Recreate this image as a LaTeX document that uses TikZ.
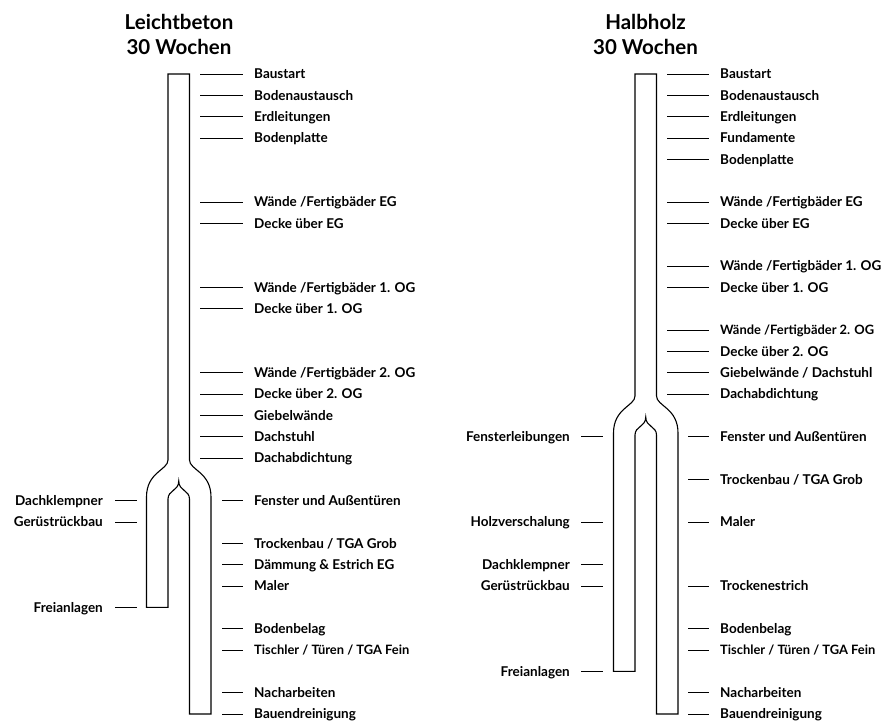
\documentclass[tikz,border=0pt]{standalone}
\usepackage{fontspec}
\setmainfont{Lato}
\newcommand\labelfont{\bfseries\fontsize{13.5}{15}\selectfont}
\newcommand\narrowfont{\bfseries\fontsize{12.9}{15}\selectfont}
\newcommand\titlefont{\bfseries\fontsize{20.5}{25}\selectfont}
\tikzset{
  outline/.style={line width=1.1pt, line join=miter, draw=black},
  tick/.style={line width=0.9pt, draw=black},
  lblR/.style={anchor=base west, inner sep=0pt, yshift=-4.9pt, font=\labelfont, text=black},
  lblL/.style={anchor=base east, inner sep=0pt, yshift=-4.9pt, font=\labelfont, text=black},
  ttl/.style={align=center, inner sep=0pt, font=\titlefont, text=black},
}
\begin{document}
\begin{tikzpicture}[x=1pt, y=-1pt]
\useasboundingbox (0,0) rectangle (882,722);

% ---------------- Leichtbeton ----------------
\node[ttl] (titleA) at (179,34.5) {Leichtbeton\\30 Wochen};
\draw[outline] (168,74) -- (189.5,74) -- (189.5,460)
  .. controls (189.5,470) and (211,472) .. (211,497) -- (211,714) -- (189.5,714) -- (189.5,499)
  .. controls (189.5,490) and (178.75,491) .. (178.75,481)
  .. controls (178.75,491) and (168,490) .. (168,499) -- (168,607.3) -- (146.5,607.3) -- (146.5,497)
  .. controls (146.5,472) and (168,470) .. (168,460) -- cycle;

\foreach \k/\xs/\t in {0/200/Baustart, 1/200/Bodenaustausch, 2/200/Erdleitungen, 3/200/Bodenplatte,
  6/200/{Wände /Fertigbäder EG}, 7/200/{Decke über EG}, 10/200/{Wände /Fertigbäder 1. OG},
  11/200/{Decke über 1. OG}, 14/200/{Wände /Fertigbäder 2. OG}, 15/200/{Decke über 2. OG},
  16/200/Giebelwände, 17/200/Dachstuhl, 18/200/Dachabdichtung,
  20/222/{Fenster und Außentüren}, 22/222/{Trockenbau / TGA Grob}, 23/222/{Dämmung \& Estrich EG},
  24/222/Maler, 26/222/Bodenbelag, 27/222/{\narrowfont Tischler / Türen / TGA Fein}, 29/222/Nacharbeiten,
  30/222/Bauendreinigung} {
  \node[lblR] (AR\k) at (254,{74+\k*21.333}) {\t};
  \coordinate (ARs\k) at (\xs,{74+\k*21.333});
  \draw[tick] (ARs\k) -- ([xshift=-11pt,yshift=4.9pt]AR\k.base west);
}
\foreach \k/\t in {20/Dachklempner, 21/Gerüstrückbau, 25/Freianlagen} {
  \node[lblL] (AL\k) at (103,{74+\k*21.333}) {\t};
  \coordinate (ALs\k) at (137,{74+\k*21.333});
  \draw[tick] ([xshift=12pt,yshift=4.9pt]AL\k.base east) -- (ALs\k);
}

% ---------------- Halbholz ----------------
\node[ttl] (titleB) at (645.5,34.5) {Halbholz\\30 Wochen};
\draw[outline] (635,74) -- (656.5,74) -- (656.5,396)
  .. controls (656.5,406) and (678,408) .. (678,433) -- (678,714) -- (656.5,714) -- (656.5,435)
  .. controls (656.5,426) and (645.75,427) .. (645.75,417)
  .. controls (645.75,427) and (635,426) .. (635,435) -- (635,671.3) -- (613.5,671.3) -- (613.5,433)
  .. controls (613.5,408) and (635,406) .. (635,396) -- cycle;

\foreach \k/\xs/\t in {0/667/Baustart, 1/667/Bodenaustausch, 2/667/Erdleitungen, 3/667/Fundamente,
  4/667/Bodenplatte, 6/667/{Wände /Fertigbäder EG}, 7/667/{Decke über EG},
  9/667/{Wände /Fertigbäder 1. OG}, 10/667/{Decke über 1. OG}, 12/667/{\narrowfont Wände /Fertigbäder 2. OG},
  13/667/{Decke über 2. OG}, 14/667/{Giebelwände / Dachstuhl}, 15/667/Dachabdichtung,
  17/688/{Fenster und Außentüren}, 19/688/{Trockenbau / TGA Grob}, 21/688/Maler,
  24/688/Trockenestrich, 26/688/Bodenbelag, 27/688/{\narrowfont Tischler / Türen / TGA Fein},
  29/688/Nacharbeiten, 30/688/Bauendreinigung} {
  \node[lblR] (BR\k) at (720,{74+\k*21.333}) {\t};
  \coordinate (BRs\k) at (\xs,{74+\k*21.333});
  \draw[tick] (BRs\k) -- ([xshift=-11pt,yshift=4.9pt]BR\k.base west);
}
\foreach \k/\t in {17/Fensterleibungen, 21/Holzverschalung, 23/Dachklempner, 24/Gerüstrückbau, 28/Freianlagen} {
  \node[lblL] (BL\k) at (570,{74+\k*21.333}) {\t};
  \coordinate (BLs\k) at (603,{74+\k*21.333});
  \draw[tick] ([xshift=11pt,yshift=4.9pt]BL\k.base east) -- (BLs\k);
}
\end{tikzpicture}
\end{document}
